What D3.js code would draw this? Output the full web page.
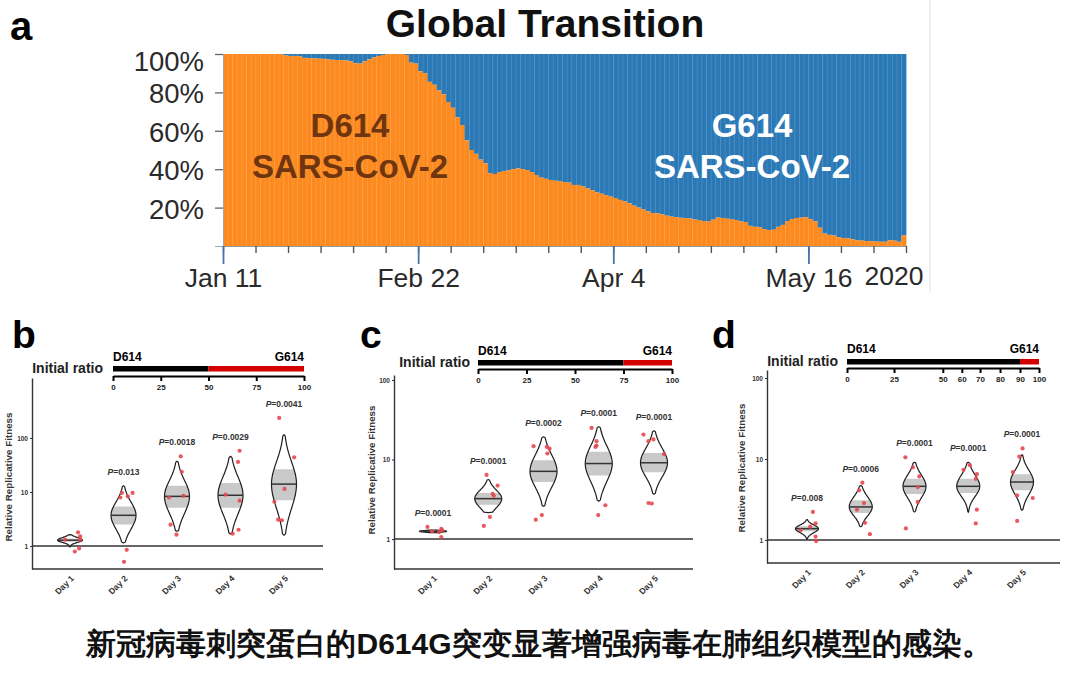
<!DOCTYPE html>
<html><head><meta charset="utf-8">
<script src="https://cdn.jsdelivr.net/npm/d3@7"></script>
<style>
body{margin:0;background:#fff}
svg{display:block}
text{font-family:"Liberation Sans",Arial,Helvetica,sans-serif}
</style>
</head><body>
<svg id="chart" width="1080" height="675"></svg>
<script>
// ================= DATA =================
// Panel a: daily share of D614 among global sequences (G614 = 1 - share), from Jan 11
const startDate = "2020-01-11";
const d614Share = [
 1,1,1,1,1,1,1,1,1,1,1,1,1,
 .992,.99,.99,.988,
 .98,.978,.977,.976,.975,
 .972,.97,.968,.968,.966,.962,
 .952,.95,
 .962,.972,.982,
 .99,.995,
 1,1,1,1,
 .995,
 .955,.95,
 .91,.9,
 .855,.84,
 .81,.79,
 .75,.72,
 .67,.63,
 .55,.5,.48,
 .45,.43,
 .38,.375,
 .385,.39,.395,.4,
 .405,.4,.395,
 .385,.37,
 .356,.35,
 .344,.34,.337,
 .333,.33,
 .318,.318,.31,
 .3,.29,
 .28,.272,
 .265,.257,.25,
 .24,.232,
 .222,.21,.2,
 .19,.18,
 .172,.17,
 .165,.158,.153,
 .15,.147,.145,.143,
 .138,.135,.13,
 .127,.137,
 .148,.146,
 .142,.14,.135,
 .128,.125,
 .105,.1,.098,
 .088,.083,.085,
 .1,.11,
 .13,.14,
 .146,.148,.15,
 .14,.128,
 .095,.065,
 .058,.055,
 .045,.042,.04,
 .035,.03,.028,
 .026,.025,.023,.022,.022,
 .03,.028,
 .022,
 .055
];
const aTitle = "Global Transition";
const aMajorDates = ["2020-01-11","2020-02-22","2020-04-04","2020-05-16"];
const aMajorLabels = ["Jan 11","Feb 22","Apr 4","May 16"];
const aYearLabel = "2020";
const aYTicks = [0.2,0.4,0.6,0.8,1.0];
const aSeriesNames = ["D614","G614"];
const aSeriesSub = "SARS-CoV-2";

// Panels b-d
const days = ["Day 1","Day 2","Day 3","Day 4","Day 5"];
const fitTicks = [1,10,100];
const yTitle = "Relative Replicative Fitness";

// violin summaries per day: [lower tip, Q1, median, Q3, upper tip]
const bViolin = [[0.96,1.2,1.28,1.38,1.62],[1.14,2.5,3.7,5.4,13.1],[1.87,5.1,8.3,13.1,37],[1.67,5.1,8.7,14.7,45.7],[1.58,7.0,14.0,26.5,115]];
const bPoints = [[1.31,1.79,1.51,1.31,0.9,0.79],[7.9,9.6,8.3,9.6,0.85,0.51],[45.7,23.7,8.5,7.9,2.48,1.62],[58,36,8.9,6.9,2.0,1.69],[235,43.8,11.4,6.6,3.07,3.0]];
const bJitter = [[-0.09,0.15,0.19,0.19,0.17,0.09],[-0.06,-0.03,0.08,0.17,0.06,0.01],[0.07,0.09,0.12,-0.15,-0.12,-0.01],[0.17,0.14,-0.09,0.17,0.15,0.04],[-0.09,0.19,0.01,-0.18,-0.11,-0.04]];
const bP = [null,"0.013","0.0018","0.0029","0.0041"];
const bRatioTicks = [0,25,50,75,100];
const bG614Start = 50;

const cViolin = [[1.2,1.23,1.25,1.27,1.3],[2.15,2.7,3.22,3.8,5.6],[2.58,5.2,7.1,9.8,19.3],[3.0,6.3,8.9,12.5,25.8],[3.66,6.9,9.1,12.1,23]];
const cPoints = [[1.42,1.34,1.29,1.06,1.25,1.22],[6.4,4.7,3.7,3.5,1.9,1.46],[14.7,14.4,13.7,11.9,2.0,1.75],[25,17,15,14.4,2.66,2.0],[20.6,17,17.9,11.7,2.84,2.8]];
const cJitter = [[-0.10,0.15,0.17,0.15,-0.02,0.11],[-0.03,0.17,0.08,0.10,0.03,-0.08],[-0.18,0.06,0.11,0.07,-0.03,-0.14],[-0.13,-0.04,-0.04,-0.06,0.12,-0.01],[-0.19,-0.10,-0.01,0.18,-0.10,-0.04]];
const cP = ["0.0001","0.0001","0.0002","0.0001","0.0001"];
const cRatioTicks = [0,25,50,75,100];
const cG614Start = 75;

const dViolin = [[1.02,1.28,1.38,1.48,1.79],[1.46,2.16,2.56,3.1,4.7],[2.22,3.7,4.6,5.7,9.1],[2.2,3.8,4.6,5.7,9.1],[2.33,4.1,5.2,6.5,11.3]];
const dPoints = [[2.22,1.6,1.46,1.1,0.97,1.32],[5.1,4.1,2.86,2.37,1.63,1.18],[10.5,7.9,6.1,4.5,2.95,1.39],[7.35,8.4,6.5,5.7,2.37,1.6],[13.5,10.7,6.9,3.55,3.3,1.72]];
const dJitter = [[0.11,0.16,0.06,0.16,0.17,-0.12],[0.03,-0.03,0.06,-0.07,0.08,0.17],[-0.17,-0.03,0.09,0.06,0.06,-0.16],[-0.09,0.03,0.16,0.14,0.16,0.14],[0.01,-0.05,-0.17,-0.09,0.2,-0.09]];
const dP = ["0.008","0.0006","0.0001","0.0001","0.0001"];
const dRatioTicks = [0,25,50,60,70,80,90,100];
const dG614Start = 90;

const ratioTitle = "Initial ratio";
const caption = "新冠病毒刺突蛋白的D614G突变显著增强病毒在肺组织模型的感染。";

// ================= DRAW =================
const ORANGE = "#fc8a1e", BLUE = "#2a79b6";
const svg = d3.select("#chart");
svg.append("rect").attr("width",1080).attr("height",675).attr("fill","#fff");

// ---------- Panel a ----------
(function(){
  const g = svg.append("g");
  const parse = d3.utcParse("%Y-%m-%d");
  const t0 = parse(startDate);
  const n = d614Share.length;
  const dayAt = i => d3.utcDay.offset(t0, i);
  const x = d3.scaleUtc().domain([t0, dayAt(n)]).range([223, 906]);
  const y = d3.scaleLinear().domain([0,1]).range([246, 54]);

  g.append("line").attr("x1",930).attr("x2",930).attr("y1",0).attr("y2",293)
    .attr("stroke","#e2e2e2").attr("stroke-width",1);

  const bars = g.append("g").selectAll("g").data(d614Share).join("g");
  bars.append("rect")
    .attr("x",(d,i)=>x(dayAt(i))).attr("width",(d,i)=>x(dayAt(i+1))-x(dayAt(i))+0.4)
    .attr("y",y(1)).attr("height",d=>y(d)-y(1)).attr("fill",BLUE);
  bars.append("rect")
    .attr("x",(d,i)=>x(dayAt(i))).attr("width",(d,i)=>x(dayAt(i+1))-x(dayAt(i))+0.4)
    .attr("y",d=>y(d)).attr("height",d=>y(0)-y(d)).attr("fill",ORANGE);
  bars.append("line")
    .attr("x1",(d,i)=>x(dayAt(i))+0.3).attr("x2",(d,i)=>x(dayAt(i))+0.3)
    .attr("y1",y(1)).attr("y2",y(0)).attr("stroke","#ffffff").attr("stroke-opacity",0.15).attr("stroke-width",0.8);

  // y axis
  const ya = g.append("g").attr("transform","translate(223,0)")
    .call(d3.axisLeft(y).tickValues(aYTicks).tickFormat(d3.format(".0%")).tickSize(8).tickSizeOuter(8).tickPadding(11));
  ya.select(".domain").attr("stroke","#9aa");
  ya.selectAll(".tick line").attr("stroke","#666").attr("stroke-width",1.3);
  ya.selectAll(".tick text").attr("font-size",27.5).attr("fill","#2a2a2a")
    .attr("font-family","Liberation Sans, Arial, sans-serif").attr("dy",(d)=> d===1 ? "0.6em" : "0.38em");

  // x axis: weekly minor ticks
  const weekly = d3.range(0, n+1, 7).map(dayAt);
  const xa = g.append("g").attr("transform","translate(0,246)")
    .call(d3.axisBottom(x).tickValues(weekly).tickFormat("").tickSize(7).tickSizeOuter(0));
  xa.select(".domain").attr("stroke","#999").attr("stroke-width",1.2);
  xa.selectAll(".tick line").attr("stroke","#555").attr("stroke-width",1.4);
  const majors = aMajorDates.map(parse);
  const xm = g.append("g").attr("transform","translate(0,246)")
    .call(d3.axisBottom(x).tickValues(majors).tickFormat((d,i)=>aMajorLabels[i]).tickSize(18).tickPadding(4));
  xm.select(".domain").remove();
  xm.selectAll(".tick line").attr("stroke","#4a72aa").attr("stroke-width",1.8);
  xm.selectAll(".tick text").attr("font-size",26.5).attr("fill","#2a2a2a")
    .attr("font-family","Liberation Sans, Arial, sans-serif");
  g.append("text").attr("x",894).attr("y",285).attr("text-anchor","middle")
    .attr("font-size",26.5).attr("fill","#2a2a2a").text(aYearLabel);

  // series labels
  const lab = [[350,"#6f3510",aSeriesNames[0]],[752,"#ffffff",aSeriesNames[1]]];
  lab.forEach(([cx,col,name])=>{
    g.append("text").attr("x",cx).attr("y",137).attr("text-anchor","middle")
      .attr("font-size",33).attr("font-weight","bold").attr("fill",col).text(name);
    g.append("text").attr("x",cx).attr("y",178).attr("text-anchor","middle")
      .attr("font-size",33).attr("font-weight","bold").attr("fill",col).text(aSeriesSub);
  });

  g.append("text").attr("x",545).attr("y",37).attr("text-anchor","middle")
    .attr("font-size",39).attr("font-weight","bold").attr("fill","#111").text(aTitle);
  g.append("text").attr("x",10).attr("y",40)
    .attr("font-size",40).attr("font-weight","bold").attr("fill","#000").text("a");
})();

// ---------- Panels b, c, d ----------
const panels = [
  {letter:"b", lx:12, yDom:[0.375,1290], yTop:378, yBot:569, xL:32, xR:323, dayR:[70,284],
   rX:[113,304], barY:366, rAxisY:376, nameY:361, initR:103, initY:373, titleX:9, titleY:477, W:12.5,
   vio:bViolin, pts:bPoints, jit:bJitter, p:bP, rt:bRatioTicks, split:bG614Start, fr:null},
  {letter:"c", lx:360, yDom:[0.42,115.6], yTop:375, yBot:569, xL:394, xR:693, dayR:[433,654],
   rX:[478,672], barY:360, rAxisY:369, nameY:355, initR:470, initY:367, titleX:372, titleY:470, W:13.5,
   vio:cViolin, pts:cPoints, jit:cJitter, p:cP, rt:cRatioTicks, split:cG614Start, fr:null},
  {letter:"d", lx:712, yDom:[0.52,125.6], yTop:370, yBot:563, xL:767, xR:1060, dayR:[807,1022],
   rX:[847,1039], barY:359, rAxisY:368, nameY:353, initR:838, initY:366, titleX:742, titleY:468, W:11.5,
   vio:dViolin, pts:dPoints, jit:dJitter, p:dP, rt:dRatioTicks, split:dG614Start,
   fr:[0,0.245,0.499,0.598,0.693,0.797,0.901,1]}
];

panels.forEach(L=>{
  const g = svg.append("g");
  const y = d3.scaleLog().domain(L.yDom).range([L.yBot, L.yTop]);
  const x = d3.scalePoint().domain(days).range(L.dayR);
  const step = x.step();

  g.append("text").attr("x",L.lx).attr("y",348).attr("font-size",39).attr("font-weight","bold").text(L.letter);

  const r = L.fr
    ? d3.scaleLinear().domain(L.rt).range(L.fr.map(f=>L.rX[0]+f*(L.rX[1]-L.rX[0])))
    : d3.scaleLinear().domain([0,100]).range(L.rX);
  g.append("text").attr("x",L.initR).attr("y",L.initY).attr("text-anchor","end")
    .attr("font-size",14).attr("font-weight","bold").attr("fill","#222").text(ratioTitle);
  g.append("text").attr("x",r(0)).attr("y",L.nameY).attr("font-size",12).attr("font-weight","bold").text(aSeriesNames[0]);
  g.append("text").attr("x",r(100)).attr("y",L.nameY).attr("text-anchor","end").attr("font-size",12).attr("font-weight","bold").text(aSeriesNames[1]);
  g.append("rect").attr("x",r(0)).attr("y",L.barY).attr("width",r(L.split)-r(0)).attr("height",5.5).attr("fill","#000");
  g.append("rect").attr("x",r(L.split)).attr("y",L.barY).attr("width",r(100)-r(L.split)).attr("height",5.5).attr("fill","#d40000");
  const ra = g.append("g").attr("transform",`translate(0,${L.rAxisY})`)
    .call(d3.axisBottom(r).tickValues(L.rt).tickSize(5).tickSizeOuter(0).tickPadding(3));
  ra.select(".domain").attr("stroke","#000").attr("stroke-width",2);
  ra.selectAll(".tick line").attr("stroke","#000").attr("stroke-width",2);
  ra.selectAll(".tick text").attr("font-size",8).attr("font-weight","bold").attr("fill","#222")
    .attr("font-family","Liberation Sans, Arial, sans-serif");

  const ya = g.append("g").attr("transform",`translate(${L.xL},0)`)
    .call(d3.axisLeft(y).tickValues(fitTicks).tickFormat(d3.format("d")).tickSize(2).tickSizeOuter(0).tickPadding(2));
  ya.select(".domain").attr("stroke","#333").attr("stroke-width",1.4);
  ya.selectAll(".tick line").attr("stroke","#333");
  ya.selectAll(".tick text").attr("font-size",6.5).attr("font-weight","bold").attr("fill","#333")
    .attr("font-family","Liberation Sans, Arial, sans-serif");
  g.append("line").attr("x1",L.xL).attr("x2",L.xR).attr("y1",L.yBot).attr("y2",L.yBot)
    .attr("stroke","#333").attr("stroke-width",1.4);
  g.append("line").attr("x1",L.xL).attr("x2",L.xR).attr("y1",y(1)).attr("y2",y(1))
    .attr("stroke","#333").attr("stroke-width",1.5);

  const xa = g.append("g").attr("transform",`translate(0,${L.yBot})`)
    .call(d3.axisBottom(x).tickSize(0));
  xa.select(".domain").remove();
  xa.selectAll(".tick text").attr("x",0).attr("y",0).attr("dy",0)
    .attr("transform","translate(4,10) rotate(-45)").attr("text-anchor","end")
    .attr("font-size",8.5).attr("font-weight","bold").attr("fill","#333")
    .attr("font-family","Liberation Sans, Arial, sans-serif");

  g.append("text").attr("transform",`translate(${L.titleX},${L.titleY}) rotate(-90)`)
    .attr("text-anchor","middle").attr("dy","0.35em").attr("font-size",9.8).attr("font-weight","bold")
    .attr("fill","#333").text(yTitle);

  L.vio.forEach((st,i)=>{
    const cx = x(days[i]);
    const [lo,q1,md,q3,hi] = st.map(Math.log10);
    const su = Math.max((q3-md)/0.6745,1e-4), sd = Math.max((md-q1)/0.6745,1e-4);
    const wAt = t => { const z = t<md ? (t-md)/sd : (t-md)/su; return L.W*Math.exp(-0.5*z*z); };
    const sample = (a,b,tipA,tipB) => d3.range(0,61).map(k=>{
      const t = a+(b-a)*k/60; let w = wAt(t);
      if((k===0&&tipA)||(k===60&&tipB)) w = 0;
      return [t,w];
    });
    const area = d3.area().y(d=>y(10**d[0])).x0(d=>cx-d[1]).x1(d=>cx+d[1]).curve(d3.curveMonotoneY);
    g.append("path").attr("d",area(sample(lo,hi,true,true))).attr("fill","#fff");
    g.append("path").attr("d",area(sample(q1,q3,false,false))).attr("fill","#c9c9c9");
    g.append("path").attr("d",area(sample(lo,hi,true,true))).attr("fill","none")
      .attr("stroke","#1e1e1e").attr("stroke-width",1.2);
    g.append("line").attr("x1",cx-wAt(md)).attr("x2",cx+wAt(md)).attr("y1",y(10**md)).attr("y2",y(10**md))
      .attr("stroke","#333").attr("stroke-width",1.5);
  });

  L.pts.forEach((arr,i)=>{
    g.append("g").selectAll("circle").data(arr).join("circle")
      .attr("cx",(v,j)=>x(days[i])+L.jit[i][j]*step).attr("cy",v=>y(v)).attr("r",2.1)
      .attr("fill","#e5474f").attr("fill-opacity",0.9);
  });

  L.p.forEach((pv,i)=>{
    if(!pv) return;
    const top = Math.min(y(L.vio[i][4]), y(d3.max(L.pts[i])));
    const t = g.append("text").attr("x",x(days[i])).attr("y",top-11).attr("text-anchor","middle")
      .attr("font-size",8.5).attr("font-weight","bold").attr("fill","#333");
    t.append("tspan").attr("font-style","italic").text("P");
    t.append("tspan").text("="+pv);
  });
});

svg.append("text").attr("x",539).attr("y",654).attr("text-anchor","middle")
  .attr("font-family","'Noto Sans CJK SC', 'Noto Sans CJK TC', sans-serif").attr("font-weight","bold")
  .attr("font-size",30).attr("fill","#111").text(caption);
</script>
</body></html>
